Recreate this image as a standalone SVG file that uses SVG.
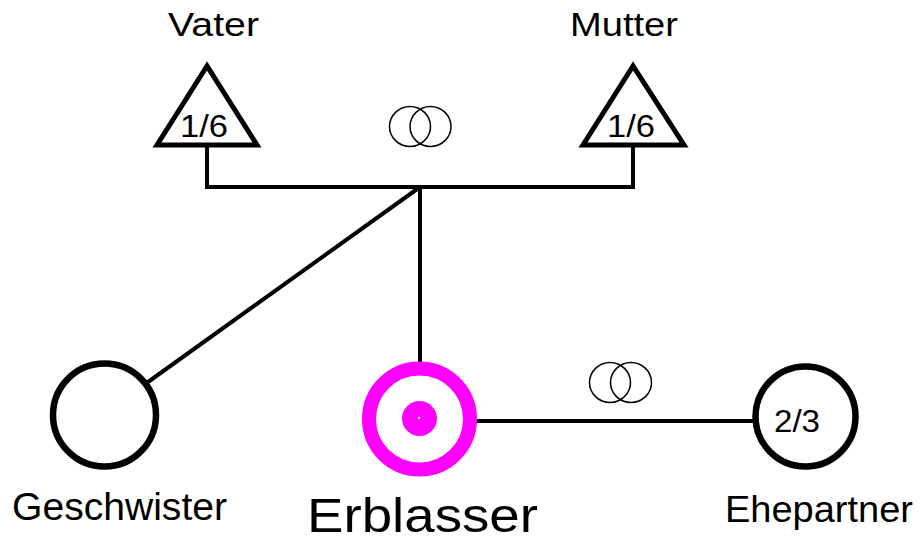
<svg xmlns="http://www.w3.org/2000/svg" width="922" height="542" viewBox="0 0 922 542">
<style>
text{font-family:"Liberation Sans",Arial,sans-serif;fill:#000}
.lbl{font-size:33px}
.frac{font-size:32px}
.line{stroke:#000;stroke-width:4;fill:none}
.tri{stroke:#000;stroke-width:5;fill:#fff;stroke-linejoin:miter}
.circ{stroke:#000;stroke-width:6.5;fill:#fff}
.ring{stroke:#000;stroke-width:1.5;fill:none}
</style>
<rect width="922" height="542" fill="#fff"/>
<g id="connectors">
<polyline class="line" points="207,146 207,187 633,187 633,146"/>
<line class="line" x1="420" y1="187" x2="420" y2="368"/>
<line class="line" x1="420" y1="187" x2="148" y2="382"/>
<line class="line" x1="468" y1="421" x2="753" y2="421"/>
</g>
<g id="rings-parents">
<ellipse class="ring" cx="410" cy="126.5" rx="20.5" ry="20"/>
<ellipse class="ring" cx="430.5" cy="126.5" rx="20.5" ry="20"/>
</g>
<g id="rings-spouse">
<ellipse class="ring" cx="610" cy="382.5" rx="20.5" ry="20"/>
<ellipse class="ring" cx="631" cy="382.5" rx="20.5" ry="20"/>
</g>
<g id="vater">
<polygon class="tri" points="207,66 157,145 257,145"/>
<text class="frac" x="180" y="137" textLength="48" lengthAdjust="spacingAndGlyphs">1/6</text>
<text class="lbl" x="168" y="36" textLength="91" lengthAdjust="spacingAndGlyphs">Vater</text>
</g>
<g id="mutter">
<polygon class="tri" points="633,66 583,145 684,145"/>
<text class="frac" x="607" y="137" textLength="48" lengthAdjust="spacingAndGlyphs">1/6</text>
<text class="lbl" x="570" y="36" textLength="108" lengthAdjust="spacingAndGlyphs">Mutter</text>
</g>
<g id="geschwister">
<circle class="circ" cx="104.5" cy="415" r="51.5"/>
<text x="12" y="520" font-size="38" textLength="215" lengthAdjust="spacingAndGlyphs">Geschwister</text>
</g>
<g id="erblasser">
<circle cx="419.5" cy="419" r="50.5" fill="#fff" stroke="#ff00ff" stroke-width="14"/>
<circle cx="419.5" cy="418.5" r="17.5" fill="#ff00ff"/>
<circle cx="419" cy="418" r="1.3" fill="#fff"/>
<text x="307" y="532" font-size="49" textLength="231" lengthAdjust="spacingAndGlyphs">Erblasser</text>
</g>
<g id="ehepartner">
<circle class="circ" cx="805.5" cy="416.5" r="50"/>
<text class="frac" x="774" y="432" textLength="46" lengthAdjust="spacingAndGlyphs">2/3</text>
<text x="725" y="522" font-size="37" textLength="188" lengthAdjust="spacingAndGlyphs">Ehepartner</text>
</g>
</svg>
